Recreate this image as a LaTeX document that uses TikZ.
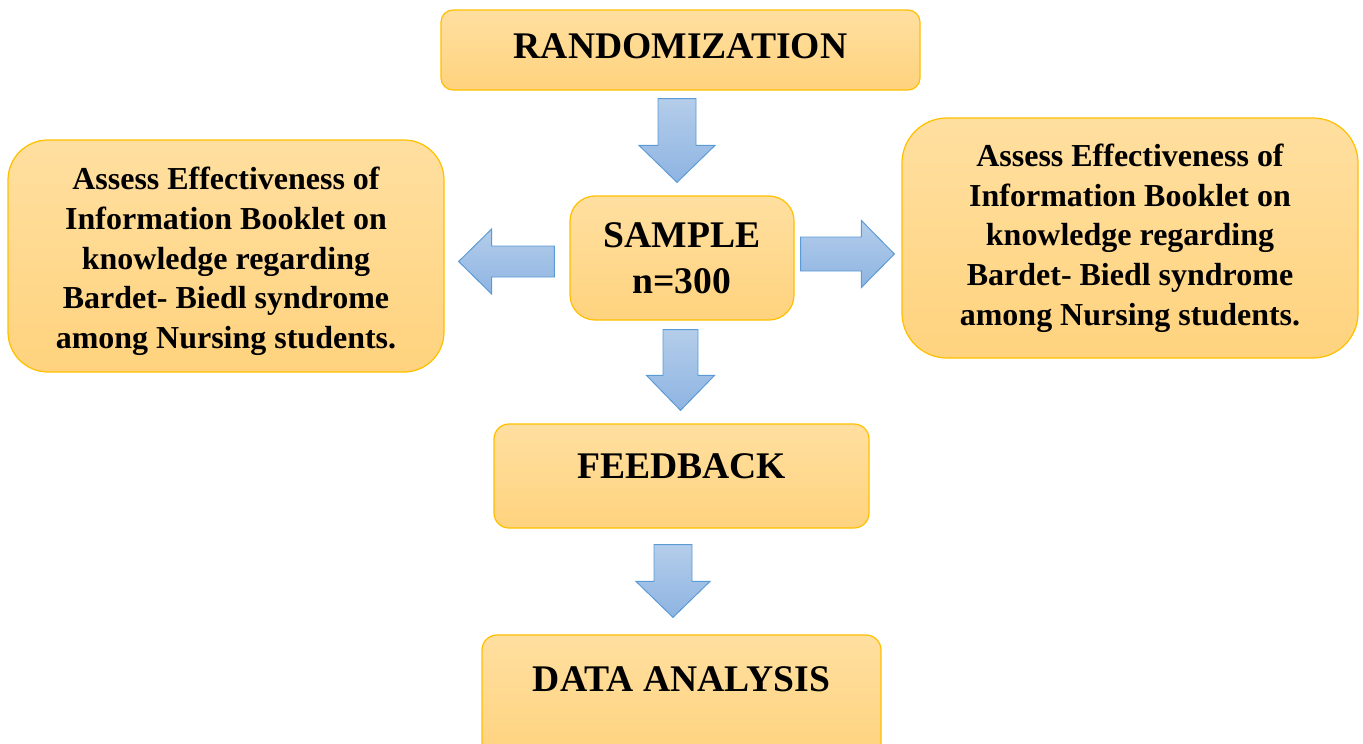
\documentclass[tikz,border=0pt]{standalone}
\usepackage{fontspec}
\setmainfont{Liberation Serif}
\usepackage{tikz}
\usetikzlibrary{calc,shapes.geometric}
\definecolor{boxtop}{HTML}{FFDFA0}
\definecolor{boxbot}{HTML}{FFD37E}
\definecolor{boxline}{HTML}{FFC000}
\definecolor{arrtop}{HTML}{B4CDEA}
\definecolor{arrbot}{HTML}{8EB4E2}
\definecolor{arrline}{HTML}{5B9BD5}
\def\bigfont{\fontsize{21.4}{26.2}\selectfont\bfseries}
\def\smallfont{\fontsize{18.2}{22.6}\selectfont\bfseries}
% block arrow: start, tip, half shaft, half head, head length
\newcommand{\blockarrow}[5]{%
    \coordinate (arr-s) at (#1);
    \coordinate (arr-e) at (#2);
    \coordinate (arr-b) at ($(arr-e)!#5!(arr-s)$);
    \path[block arrow] ($(arr-s)!#3!90:(arr-e)$) -- ($(arr-b)!#3!90:(arr-e)$)
        -- ($(arr-b)!#4!90:(arr-e)$) -- (arr-e) -- ($(arr-b)!#4!-90:(arr-e)$)
        -- ($(arr-b)!#3!-90:(arr-e)$) -- ($(arr-s)!#3!-90:(arr-e)$) -- cycle;
}

\begin{document}
\begin{tikzpicture}
    \tikzstyle{box}=[rectangle, draw=boxline, line width=0.7pt, top color=boxtop, bottom color=boxbot, inner sep=0pt, align=center]
    \tikzstyle{big box}=[box, font=\bigfont]
    \tikzstyle{small box}=[box, font=\smallfont]
    \tikzstyle{block arrow}=[draw=arrline, line width=0.55pt, top color=arrtop, bottom color=arrbot, line join=miter]

    \useasboundingbox (0,0) rectangle (27.26,-14.86);

    % Draw the middle column
    \node[big box, minimum width=9.58cm, minimum height=1.6cm, rounded corners=0.24cm,
        text height=0.49cm, text depth=0.17cm] (rand) at (13.61,-1.00) {RANDOMIZATION};
    \node[big box, minimum width=4.48cm, minimum height=2.48cm, rounded corners=0.5cm] (sample) at (13.64,-5.16) {SAMPLE\\n=300};
    \node[big box, minimum width=7.50cm, minimum height=2.08cm, rounded corners=0.3cm,
        text height=0.49cm, text depth=0.41cm] (feedback) at (13.63,-9.52) {FEEDBACK};
    \node[big box, minimum width=7.98cm, minimum height=2.50cm, rounded corners=0.3cm,
        text height=0.49cm, text depth=0.75cm] (analysis) at (13.63,-13.95) {DATA ANALYSIS};

    % Draw the side boxes
    \node[small box, minimum width=8.72cm, minimum height=4.64cm, rounded corners=0.8cm] (assessL) at (4.52,-5.12)
        {\rule{0pt}{0.67cm}Assess Effectiveness of\\Information Booklet on\\knowledge regarding\\Bardet- Biedl syndrome\\among Nursing students.};
    \node[small box, minimum width=9.12cm, minimum height=4.80cm, rounded corners=0.9cm] (assessR) at (22.60,-4.76)
        {Assess Effectiveness of\\Information Booklet on\\knowledge regarding\\Bardet- Biedl syndrome\\among Nursing students.};

    % Draw the arrows
    \blockarrow{$(rand.south)+(-0.07,-0.16)$}{$(sample.north)+(-0.10,0.26)$}{0.38cm}{0.76cm}{0.74cm}
    \blockarrow{$(sample.south)+(-0.03,-0.18)$}{$(feedback.north)+(-0.02,0.26)$}{0.35cm}{0.68cm}{0.70cm}
    \blockarrow{$(feedback.south)+(-0.17,-0.32)$}{$(analysis.north)+(-0.17,0.34)$}{0.38cm}{0.74cm}{0.72cm}
    \blockarrow{$(sample.west)+(-0.30,-0.07)$}{$(assessL.east)+(0.28,-0.11)$}{0.31cm}{0.65cm}{0.66cm}
    \blockarrow{$(sample.east)+(0.12,0.08)$}{$(assessR.west)+(-0.14,-0.32)$}{0.34cm}{0.67cm}{0.66cm}
\end{tikzpicture}
\end{document}
